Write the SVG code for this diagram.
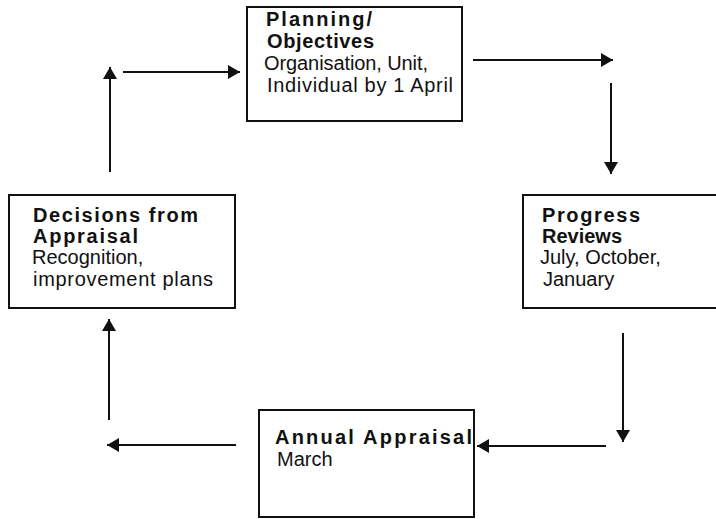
<svg xmlns="http://www.w3.org/2000/svg" width="716" height="519" viewBox="0 0 716 519">
<style>
.box{fill:#fff;stroke:#111;stroke-width:2}
.t{font-family:"Liberation Sans",Arial,sans-serif;font-size:20px;fill:#111}
.b{font-weight:bold}
.c{stroke:#111;stroke-width:2;fill:none;marker-end:url(#ah)}
</style>
<defs>
<marker id="ah" markerUnits="userSpaceOnUse" markerWidth="13" markerHeight="14" refX="12" refY="7" orient="auto">
<path d="M0,0 L12,7 L0,14 z" fill="#111"/>
</marker>
</defs>
<rect width="716" height="519" fill="#fff"/>
<g id="connectors">
<line class="c" x1="473" y1="60" x2="613" y2="60"/>
<line class="c" x1="611" y1="83" x2="611" y2="174"/>
<line class="c" x1="623" y1="333" x2="623" y2="442"/>
<line class="c" x1="606" y1="446" x2="477" y2="446"/>
<line class="c" x1="236" y1="445" x2="107" y2="445"/>
<line class="c" x1="109" y1="420" x2="109" y2="319"/>
<line class="c" x1="110" y1="172" x2="110" y2="67"/>
<line class="c" x1="123" y1="72" x2="240" y2="72"/>
</g>
<g id="planning">
<rect class="box" x="247" y="7" width="215" height="114"/>
<text class="t b" x="266" y="26" textLength="106" lengthAdjust="spacing">Planning/</text>
<text class="t b" x="267" y="48" textLength="107" lengthAdjust="spacing">Objectives</text>
<text class="t" x="264" y="70" textLength="164" lengthAdjust="spacing">Organisation, Unit,</text>
<text class="t" x="267" y="92" textLength="186" lengthAdjust="spacing">Individual by 1 April</text>
</g>
<g id="progress">
<rect class="box" x="523" y="195" width="200" height="113"/>
<text class="t b" x="542" y="222" textLength="98" lengthAdjust="spacing">Progress</text>
<text class="t b" x="542" y="243" textLength="80" lengthAdjust="spacing">Reviews</text>
<text class="t" x="540" y="264">July, October,</text>
<text class="t" x="543" y="286">January</text>
</g>
<g id="annual">
<rect class="box" x="259" y="410" width="215" height="107"/>
<text class="t b" x="275" y="444" textLength="197" lengthAdjust="spacing">Annual Appraisal</text>
<text class="t" x="277" y="466">March</text>
</g>
<g id="decisions">
<rect class="box" x="9" y="195" width="226" height="113"/>
<text class="t b" x="33" y="222" textLength="165" lengthAdjust="spacing">Decisions from</text>
<text class="t b" x="33" y="243" textLength="105" lengthAdjust="spacing">Appraisal</text>
<text class="t" x="32" y="264">Recognition,</text>
<text class="t" x="33" y="286" textLength="180" lengthAdjust="spacing">improvement plans</text>
</g>
</svg>
